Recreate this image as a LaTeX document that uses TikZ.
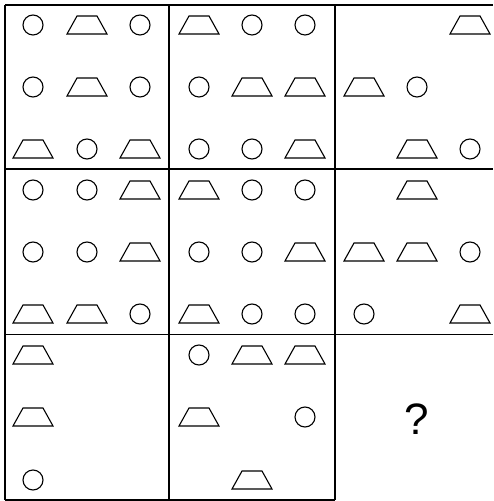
\documentclass[tikz,border=0pt]{standalone}
\usepackage{fontspec}
\setmainfont{Liberation Sans}

\tikzset{
  gridline/.style={line width=0.75pt},
  shapeline/.style={line width=0.55pt}
}

% circle and trapezoid at a centre point
\newcommand{\circat}[2]{\draw[shapeline] (#1,#2) circle (10);}
\newcommand{\trapat}[2]{\draw[shapeline] (#1,#2) ++(-20,9) -- ++(40,0) -- ++(-10,-18) -- ++(-20,0) -- cycle;}

\begin{document}
\begin{tikzpicture}[x=0.5pt,y=-0.5pt]

\useasboundingbox (0,0) rectangle (493,501);

% Grid
\draw[gridline] (5,5) -- (493,5);
\draw[gridline] (5,169) -- (493,169);
\draw[gridline] (5,334.5) -- (493,334.5);
\draw[gridline] (5,500) -- (335,500);
\draw[gridline] (5,5) -- (5,500);
\draw[gridline] (169,5) -- (169,500);
\draw[gridline] (335,5) -- (335,500);


% First row, left cell
\circat{33}{25} \trapat{87}{25} \circat{140}{25}
\circat{33}{87} \trapat{87}{87} \circat{140}{87}
\trapat{33}{149} \circat{87}{149} \trapat{140}{149}

% First row, middle cell
\trapat{199}{25} \circat{252}{25} \circat{305}{25}
\circat{199}{87} \trapat{252}{87} \trapat{305}{87}
\circat{199}{149} \circat{252}{149} \trapat{305}{149}

% First row, right cell
\trapat{470}{25}
\trapat{364}{87} \circat{417}{87}
\trapat{417}{149} \circat{470}{149}


% Second row, left cell
\circat{33}{190} \circat{87}{190} \trapat{140}{190}
\circat{33}{252} \circat{87}{252} \trapat{140}{252}
\trapat{33}{314} \trapat{87}{314} \circat{140}{314}

% Second row, middle cell
\trapat{199}{190} \circat{252}{190} \circat{305}{190}
\circat{199}{252} \circat{252}{252} \trapat{305}{252}
\trapat{199}{314} \circat{252}{314} \circat{305}{314}

% Second row, right cell
\trapat{417}{190}
\trapat{364}{252} \trapat{417}{252} \circat{470}{252}
\circat{364}{314} \trapat{470}{314}


% Third row, left cell
\trapat{33}{355}
\trapat{33}{417}
\circat{33}{480}

% Third row, middle cell
\circat{199}{355} \trapat{252}{355} \trapat{305}{355}
\trapat{199}{417} \circat{305}{417}
\trapat{252}{480}

% Missing cell
\node[font=\fontsize{22}{26}\selectfont] (qmark) at (417,419) {?};

\end{tikzpicture}
\end{document}
